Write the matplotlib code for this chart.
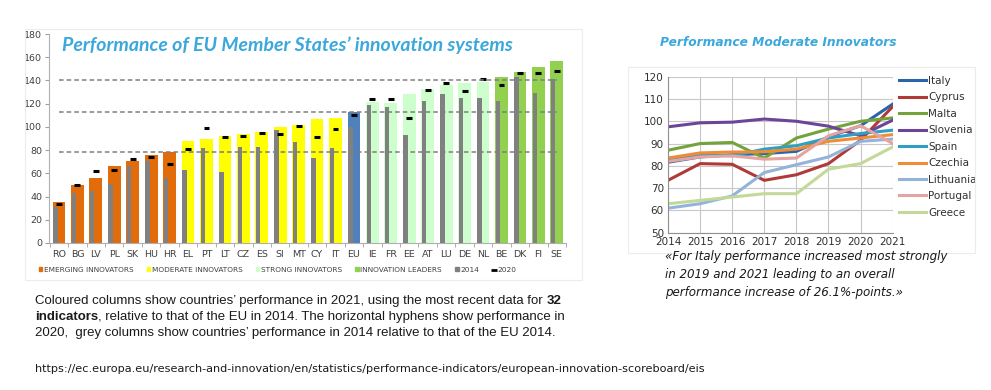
import numpy as np
import matplotlib as mpl
mpl.use('Agg')
import matplotlib.pyplot as plt
from matplotlib.patches import Patch, Rectangle
from matplotlib.lines import Line2D

# ---- data: EU member states (bar chart) ----
countries = ['RO', 'BG', 'LV', 'PL', 'SK', 'HU', 'HR', 'EL', 'PT', 'LT', 'CZ', 'ES', 'SI', 'MT',
             'CY', 'IT', 'EU', 'IE', 'FR', 'EE', 'AT', 'LU', 'DE', 'NL', 'BE', 'DK', 'FI', 'SE']
groups = ['E'] * 7 + ['M'] * 9 + ['EU'] + ['S'] * 7 + ['L'] * 4
perf_2021 = [35, 50, 55.6, 66, 70.5, 76, 78, 88, 90, 92, 94, 96, 100, 101.5,
             106.6, 107.7, 112.4, 121.5, 121, 128.4, 133, 136.4, 137.5, 138.7, 142.7, 147.3, 151.3, 156.4]
perf_2014 = [31, 43, 45, 51, 66, 70.5, 56, 62.5, 82, 61, 83, 82.5, 97.5, 87,
             73.4, 81.4, 100, 118.6, 117, 92.8, 122, 128.4, 125, 125, 122.6, 143.3, 129.5, 141]
perf_2020 = [33.5, 50, 61.6, 63, 72, 74, 68, 81, 99, 91.5, 92.5, 95, 94, 100.5,
             91.4, 98, 110.3, 124, 124, 107.7, 131.8, 137.8, 131.2, 141.5, 136.4, 146, 146, 148.4]
thresholds = [78.7, 112.4, 140.5]

# ---- data: moderate innovators (line chart) ----
years = [2014, 2015, 2016, 2017, 2018, 2019, 2020, 2021]
series_names = ['Italy', 'Cyprus', 'Malta', 'Slovenia', 'Spain', 'Czechia', 'Lithuania', 'Portugal', 'Greece']
italy = [81.6, 84, 85, 85.5, 86.5, 93, 98, 107.7]
cyprus = [73.5, 81, 80.7, 73.5, 76, 81, 91.5, 106.6]
malta = [87, 90, 90.5, 83.5, 92.5, 96.5, 100, 101.5]
slovenia = [97.5, 99.3, 99.6, 101, 100, 97.8, 93.5, 100.5]
spain = [83, 85, 84.5, 87.5, 89, 92.5, 94.5, 96]
czechia = [83.5, 85.8, 86.2, 86.3, 87.5, 91, 92.5, 94]
lithuania = [61, 63, 66.5, 77, 80.5, 84, 91, 92]
portugal = [82, 84, 84.5, 83, 83.5, 93.5, 98, 90]
greece = [63, 64.5, 66, 67.5, 67.5, 78.5, 81, 88.5]
series = [italy, cyprus, malta, slovenia, spain, czechia, lithuania, portugal, greece]
line_colors = ['#2a65a8', '#b03a37', '#74a33c', '#6c4597', '#2f9fc2', '#f08c36', '#94b3da', '#e5a3a1', '#c2d99a']

group_colors = {'E': '#e36c0a', 'M': '#ffff00', 'EU': '#4f81bd', 'S': '#ccffcc', 'L': '#92d050'}
title_blue = '#3aa8dc'
W, H = 991, 390

fig = plt.figure(figsize=(W / 100, H / 100), dpi=100)

def fx(px):
    return px / W

def fy(py):
    return 1 - py / H

# ---------------- bar chart ----------------
ax = fig.add_axes([fx(49), fy(243), fx(566) - fx(49), fy(34) - fy(243)])
x = np.arange(len(countries))
ax.bar(x, perf_2021, width=0.69, color=[group_colors[g] for g in groups], zorder=2)
ax.bar(x - 0.345 + 0.03, perf_2014, width=0.24, align='edge', color='#808080', zorder=3)
ax.hlines(perf_2020, x - 0.16, x + 0.16, color='black', lw=2.2, zorder=4)
ax.hlines(thresholds, 0, len(x) - 1, color='#7f7f7f', lw=1.1, linestyles=(0, (3, 2)), zorder=5)

ax.set_xlim(-0.54, len(x) - 0.5)
ax.set_ylim(0, 180)
ax.set_yticks(range(0, 181, 20))
ax.set_xticks(x)
ax.set_xticklabels(countries)
ax.set_xticks(np.arange(-0.5, len(x), 1), minor=True)
ax.tick_params(axis='x', which='major', length=0, labelsize=6.8, colors='#404040', pad=5)
ax.tick_params(axis='x', which='minor', length=3, color='#a0a0a0')
ax.tick_params(axis='y', length=3, labelsize=6.8, colors='#404040', pad=2, color='#a0a0a0')
for side in ['top', 'right']:
    ax.spines[side].set_visible(False)
ax.spines['left'].set_color('#b0b0b0')
ax.spines['bottom'].set_color('#b0b0b0')
ax.text(0.025, 0.99, 'Performance of EU Member States\u2019 innovation systems', transform=ax.transAxes,
        ha='left', va='top', color=title_blue, fontsize=14, fontweight='bold', fontstyle='italic',
        family=['Lato', 'DejaVu Sans'])

handles = [Patch(color=group_colors['E']), Patch(color=group_colors['M']), Patch(color=group_colors['S']),
           Patch(color=group_colors['L']), Patch(color='#808080'),
           Line2D([], [], color='black', marker='_', ls='', markersize=4, markeredgewidth=2)]
labels = ['EMERGING INNOVATORS', 'MODERATE INNOVATORS', 'STRONG INNOVATORS', 'INNOVATION LEADERS', '2014', '2020']
fig.legend(handles, labels, loc='center left', bbox_to_anchor=(fx(32), fy(270)), ncol=6, frameon=False,
           fontsize=5.3, handlelength=0.5, handleheight=0.5, handletextpad=0.2, columnspacing=1.8,
           labelcolor='#404040')

# faint frame around bar chart
fig.add_artist(Rectangle((fx(25), fy(280)), fx(582) - fx(25), fy(29) - fy(280), transform=fig.transFigure,
                         fill=False, edgecolor='#ececec', lw=0.8))

# ---------------- line chart ----------------
ax2 = fig.add_axes([fx(668), fy(232.7), fx(892.7) - fx(668), fy(76.7) - fy(232.7)])
for name, vals, c in zip(series_names, series, line_colors):
    ax2.plot(years, vals, color=c, lw=2.2, label=name)
ax2.set_xlim(2014, 2021)
ax2.set_ylim(50, 120)
ax2.set_yticks(range(50, 121, 10))
ax2.set_xticks(years)
ax2.grid(True, color='#c8c8c8', lw=0.8)
ax2.set_axisbelow(True)
ax2.tick_params(length=0, labelsize=7.5, colors='#303030', pad=3)
for side in ['top', 'right']:
    ax2.spines[side].set_visible(False)
ax2.spines['left'].set_color('#909090')
ax2.spines['bottom'].set_color('#909090')
ax2.legend(loc='upper left', bbox_to_anchor=(1.0, 1.045), frameon=False, fontsize=7.5, handlelength=2.6,
           handletextpad=0.2, labelspacing=0.62, borderaxespad=0.2, labelcolor='#303030')

fig.add_artist(Rectangle((fx(628), fy(253)), fx(975) - fx(628), fy(67) - fy(253), transform=fig.transFigure,
                         fill=False, edgecolor='#ececec', lw=0.8))
fig.text(fx(660), fy(43), 'Performance Moderate Innovators', ha='left', va='center', color=title_blue,
         fontsize=8.8, fontweight='bold', fontstyle='italic')

# ---------------- text blocks ----------------
renderer = fig.canvas.get_renderer()

def draw_runs(px, py, runs, size=9.5):
    for s, w in runs:
        t = fig.text(fx(px), fy(py), s, fontsize=size, fontweight=w, color='#1a1a1a',
                     family='Liberation Sans', va='baseline', ha='left')
        px += t.get_window_extent(renderer=renderer).width

draw_runs(35, 304, [('Coloured columns show countries\u2019 performance in 2021, using the most recent data for\u00a0', 'normal'),
                    ('32', 'bold')])
draw_runs(35, 320, [('indicators', 'bold'),
                    (', relative to that of the EU in 2014. The horizontal hyphens show performance in', 'normal')])
draw_runs(35, 336, [('2020,  grey columns show countries\u2019 performance in 2014 relative to that of the EU 2014.', 'normal')])

fig.text(fx(665), fy(296), '\u00abFor Italy performance increased most strongly\nin 2019 and 2021 leading to an overall\n'
         'performance increase of 26.1%-points.\u00bb', fontsize=8.6, fontstyle='italic', color='#1a1a1a',
         family='DejaVu Sans', va='baseline', ha='left', linespacing=1.5)

fig.text(fx(35), fy(372), 'https://ec.europa.eu/research-and-innovation/en/statistics/performance-indicators/'
         'european-innovation-scoreboard/eis', fontsize=8.1, color='#1a1a1a', family='DejaVu Sans',
         va='baseline', ha='left')

fig.savefig('out.png', dpi=100)
